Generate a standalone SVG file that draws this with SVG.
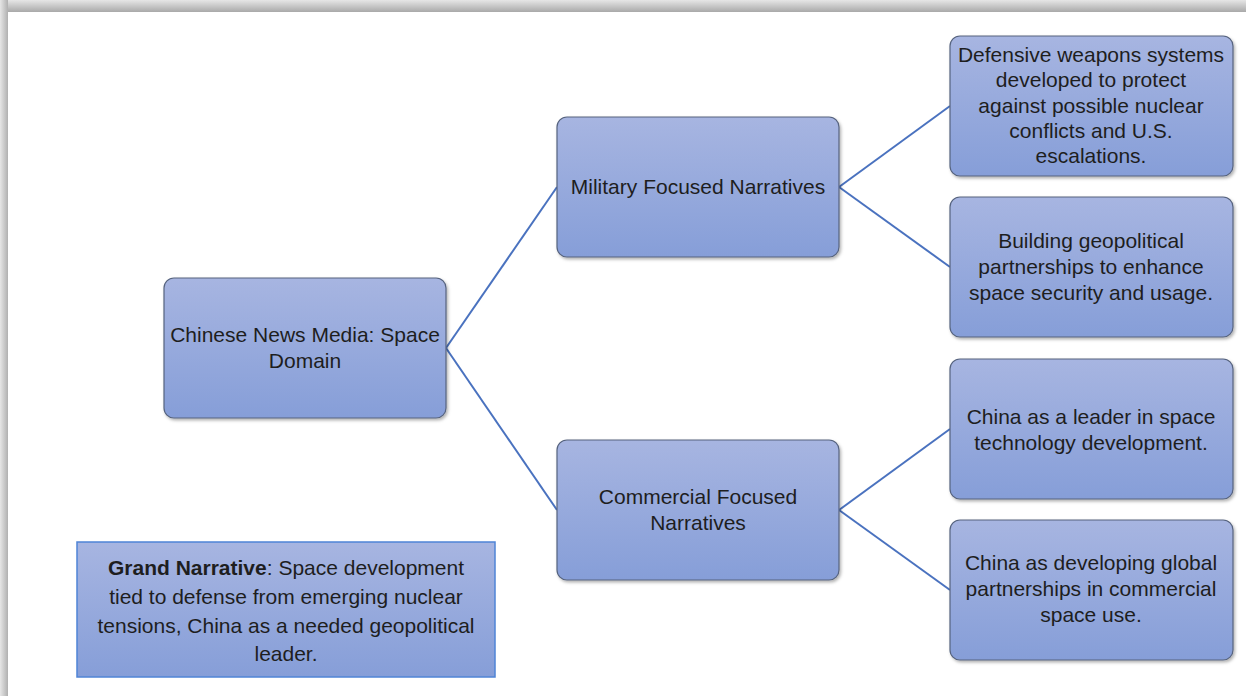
<svg xmlns="http://www.w3.org/2000/svg" width="1246" height="696" viewBox="0 0 1246 696">
<defs>
<linearGradient id="fill" x1="0" y1="0" x2="0" y2="1">
<stop offset="0" stop-color="#a7b5e1"/>
<stop offset="1" stop-color="#869ed8"/>
</linearGradient>
<linearGradient id="topShadow" x1="0" y1="0" x2="0" y2="1">
<stop offset="0" stop-color="#e6e6e6"/>
<stop offset="1" stop-color="#a9a9a9"/>
</linearGradient>
<linearGradient id="leftShadow" x1="0" y1="0" x2="1" y2="0">
<stop offset="0" stop-color="#e6e6e6"/>
<stop offset="1" stop-color="#b0b0b0"/>
</linearGradient>
<filter id="sh" x="-5%" y="-5%" width="115%" height="120%">
<feDropShadow dx="1.5" dy="2" stdDeviation="1.5" flood-color="#000" flood-opacity="0.3"/>
</filter>
</defs>
<style>
.box{fill:url(#fill);stroke:#56637f;stroke-width:1.2;filter:url(#sh)}
.grand{fill:url(#fill);stroke:#4f84d6;stroke-width:1.5}
.t{font-family:"Liberation Sans",Arial,sans-serif;font-size:21px;fill:#1e1e1e;text-anchor:middle}
.g{font-family:"Liberation Sans",Arial,sans-serif;font-size:21px;fill:#1e1e1e;text-anchor:middle}
.c{stroke:#4a72bf;stroke-width:2;fill:none}
</style>
<rect x="0" y="0" width="1246" height="696" fill="#ffffff"/>
<rect x="0" y="0" width="1246" height="12" fill="url(#topShadow)"/>
<rect x="0" y="0" width="8" height="696" fill="url(#leftShadow)"/>

<g id="connectors">
<line class="c" x1="446" y1="348" x2="557" y2="187"/>
<line class="c" x1="446" y1="348" x2="557" y2="510"/>
<line class="c" x1="839" y1="187" x2="950" y2="106"/>
<line class="c" x1="839" y1="187" x2="950" y2="267"/>
<line class="c" x1="839" y1="510" x2="950" y2="429"/>
<line class="c" x1="839" y1="510" x2="950" y2="590"/>
</g>

<g id="root">
<rect class="box" x="164" y="278" width="282" height="140" rx="10"/>
<text class="t" x="305" y="342">Chinese News Media: Space</text>
<text class="t" x="305" y="368">Domain</text>
</g>

<g id="military">
<rect class="box" x="557" y="117" width="282" height="140" rx="10"/>
<text class="t" x="698" y="194">Military Focused Narratives</text>
</g>

<g id="commercial">
<rect class="box" x="557" y="440" width="282" height="140" rx="10"/>
<text class="t" x="698" y="504">Commercial Focused</text>
<text class="t" x="698" y="530">Narratives</text>
</g>

<g id="defensive">
<rect class="box" x="950" y="36" width="283" height="140" rx="10"/>
<text class="t" x="1091" y="62">Defensive weapons systems</text>
<text class="t" x="1091" y="87">developed to protect</text>
<text class="t" x="1091" y="113">against possible nuclear</text>
<text class="t" x="1091" y="138">conflicts and U.S.</text>
<text class="t" x="1091" y="163">escalations.</text>
</g>

<g id="partnerships">
<rect class="box" x="950" y="197" width="283" height="140" rx="10"/>
<text class="t" x="1091" y="248">Building geopolitical</text>
<text class="t" x="1091" y="274">partnerships to enhance</text>
<text class="t" x="1091" y="300">space security and usage.</text>
</g>

<g id="leader">
<rect class="box" x="950" y="359" width="283" height="140" rx="10"/>
<text class="t" x="1091" y="424">China as a leader in space</text>
<text class="t" x="1091" y="450">technology development.</text>
</g>

<g id="global">
<rect class="box" x="950" y="520" width="283" height="140" rx="10"/>
<text class="t" x="1091" y="570">China as developing global</text>
<text class="t" x="1091" y="596">partnerships in commercial</text>
<text class="t" x="1091" y="622">space use.</text>
</g>

<g id="grand">
<rect class="grand" x="77" y="542" width="418" height="135"/>
<text class="g" x="286" y="575"><tspan font-weight="bold">Grand Narrative</tspan>: Space development</text>
<text class="g" x="286" y="604">tied to defense from emerging nuclear</text>
<text class="g" x="286" y="633">tensions, China as a needed geopolitical</text>
<text class="g" x="286" y="661">leader.</text>
</g>
</svg>
